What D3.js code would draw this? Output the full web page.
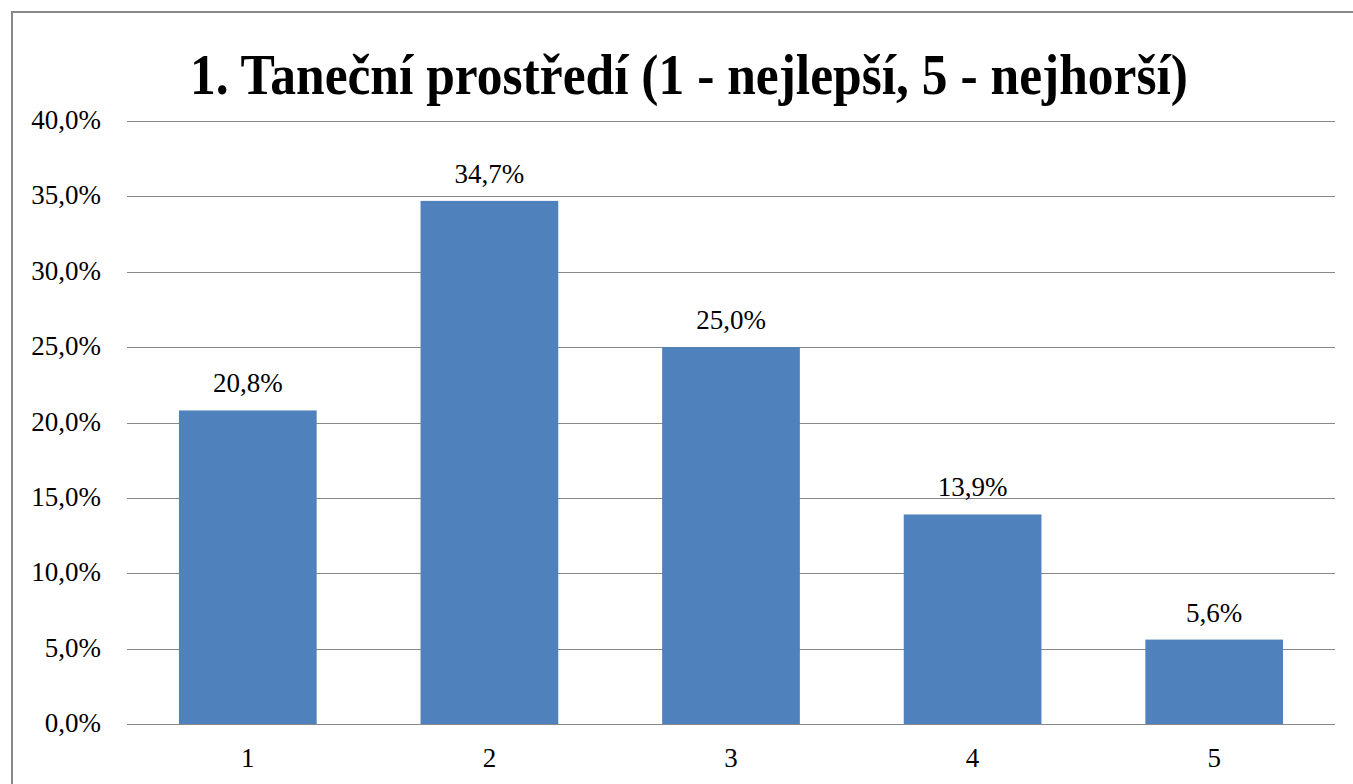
<!DOCTYPE html>
<html lang="cs">
<head>
<meta charset="UTF-8">
<title>Taneční prostředí</title>
<script src="https://d3js.org/d3.v7.min.js"></script>
<style>
  html, body { margin: 0; padding: 0; overflow: hidden; background: #fff; }
  svg { display: block; }
  .grid line { stroke: #878787; stroke-width: 1.5; shape-rendering: crispEdges; }
</style>
</head>
<body>
<svg width="1353" height="784"></svg>
<script>
const categories = ["1", "2", "3", "4", "5"];
const values = [20.8, 34.7, 25.0, 13.9, 5.6];
const yTicks = [0, 5, 10, 15, 20, 25, 30, 35, 40];
const title = "1. Taneční prostředí (1 - nejlepší, 5 - nejhorší)";

const serif = "'Liberation Serif', 'DejaVu Serif', serif";
const svg = d3.select("svg");
const fmt = v => v.toFixed(1).replace(".", ",") + "%";

// outer frame (runs off the right and bottom edges)
svg.append("path")
  .attr("d", "M12,784V12H1353")
  .attr("fill", "none").attr("stroke", "#888").attr("stroke-width", 2);

const plotLeft = 127, plotRight = 1335, plotTop = 121, plotBottom = 724;

const x = d3.scaleBand().domain(categories).range([plotLeft, plotRight])
  .paddingInner(0.43).paddingOuter(0.215);
const y = d3.scaleLinear().domain([0, 40]).range([plotBottom, plotTop]);

// gridlines
svg.append("g").attr("class", "grid")
  .selectAll("line").data(yTicks).join("line")
  .attr("x1", plotLeft).attr("x2", plotRight)
  .attr("y1", d => Math.round(y(d)) + 0.5).attr("y2", d => Math.round(y(d)) + 0.5);

// y tick labels
svg.append("g").selectAll("text").data(yTicks).join("text")
  .attr("x", 101).attr("y", d => y(d) + 8)
  .attr("text-anchor", "end")
  .attr("font-family", serif).attr("font-size", 27)
  .text(d => fmt(d));

// bars
svg.append("g").selectAll("rect").data(values).join("rect")
  .attr("x", (d, i) => x(categories[i]))
  .attr("width", x.bandwidth())
  .attr("y", d => y(d))
  .attr("height", d => y(0) - y(d))
  .attr("fill", "#4F81BD");

// value labels
svg.append("g").selectAll("text").data(values).join("text")
  .attr("x", (d, i) => x(categories[i]) + x.bandwidth() / 2)
  .attr("y", d => y(d) - 18)
  .attr("text-anchor", "middle")
  .attr("font-family", serif).attr("font-size", 27)
  .text(d => fmt(d));

// x axis labels
svg.append("g").selectAll("text").data(categories).join("text")
  .attr("x", d => x(d) + x.bandwidth() / 2)
  .attr("y", plotBottom + 43)
  .attr("text-anchor", "middle")
  .attr("font-family", serif).attr("font-size", 27)
  .text(d => d);

// title
svg.append("text")
  .attr("x", 689).attr("y", 94)
  .attr("text-anchor", "middle")
  .attr("font-family", serif).attr("font-size", 56).attr("font-weight", "bold")
  .attr("textLength", 998).attr("lengthAdjust", "spacingAndGlyphs")
  .text(title);
</script>
</body>
</html>
